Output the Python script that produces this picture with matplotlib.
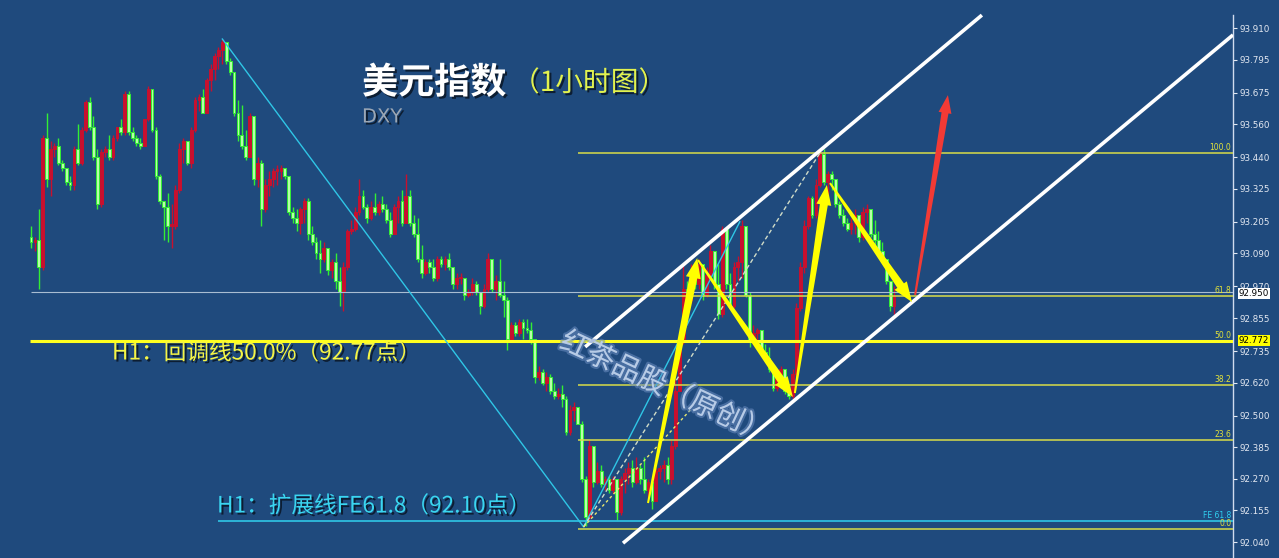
import numpy as np
import matplotlib
matplotlib.use("Agg")
import matplotlib.pyplot as plt
from matplotlib.patches import Polygon
import matplotlib.patheffects as pe
import matplotlib.transforms as mtrans

plt.rcParams["font.family"] = ["Noto Sans CJK SC", "DejaVu Sans"]

# hourly DXY bars, open of each bar = previous close
first_open = 93.15
closes = [
    93.13, 93.14, 93.04, 93.51, 93.36, 93.47, 93.48, 93.42, 93.40, 93.35,
    93.34, 93.47, 93.42, 93.54, 93.64, 93.55, 93.44, 93.27, 93.46, 93.47,
    93.44, 93.51, 93.55, 93.53, 93.67, 93.53, 93.51, 93.49, 93.48, 93.58,
    93.69, 93.54, 93.37, 93.28, 93.26, 93.19, 93.19, 93.32, 93.47, 93.50,
    93.42, 93.54, 93.65, 93.66, 93.60, 93.72, 93.76, 93.81, 93.83, 93.86,
    93.79, 93.75, 93.60, 93.52, 93.48, 93.44, 93.59, 93.36, 93.42, 93.25,
    93.34, 93.36, 93.39, 93.39, 93.40, 93.37, 93.24, 93.22, 93.20, 93.25,
    93.28, 93.16, 93.13, 93.09, 93.07, 93.11, 93.03, 93.06, 92.99, 92.95,
    93.04, 93.17, 93.18, 93.24, 93.30, 93.26, 93.22, 93.26, 93.24, 93.27,
    93.25, 93.21, 93.16, 93.26, 93.28, 93.20, 93.30, 93.20, 93.16, 93.07,
    93.02, 93.06, 93.04, 93.00, 93.07, 93.05, 93.07, 93.04, 92.98, 93.00,
    93.00, 92.94, 92.95, 92.98, 92.95, 92.90, 92.96, 93.07, 92.96, 92.99,
    92.94, 92.92, 92.78, 92.83, 92.80, 92.84, 92.82, 92.81, 92.78, 92.64,
    92.66, 92.62, 92.64, 92.59, 92.57, 92.58, 92.56, 92.44, 92.52, 92.53,
    92.47, 92.27, 92.13, 92.39, 92.26, 92.30, 92.25, 92.27, 92.23, 92.27,
    92.15, 92.27, 92.29, 92.31, 92.26, 92.31, 92.27, 92.23, 92.26, 92.19,
    92.30, 92.31, 92.32, 92.27, 92.39, 92.59, 92.78, 92.96, 92.92, 93.01,
    92.98, 93.05, 92.94, 93.01, 93.10, 92.98, 92.87, 93.18, 92.98, 92.90,
    93.04, 93.06, 93.19, 92.94, 92.77, 92.80, 92.81, 92.73, 92.71, 92.67,
    92.60, 92.65, 92.67, 92.59, 92.57, 92.65, 92.89, 93.04, 93.19, 93.29,
    93.23, 93.34, 93.45, 93.35, 93.38, 93.36, 93.27, 93.23, 93.20, 93.18,
    93.20, 93.23, 93.15, 93.24, 93.25, 93.16, 93.14, 93.10, 93.07, 92.99,
    92.90, 92.94,
]
highs = [
    93.19, 93.15, 93.25, 93.52, 93.60, 93.50, 93.49, 93.51, 93.43, 93.40,
    93.37, 93.48, 93.56, 93.55, 93.65, 93.66, 93.59, 93.47, 93.47, 93.48,
    93.52, 93.52, 93.55, 93.58, 93.68, 93.68, 93.55, 93.52, 93.51, 93.58,
    93.70, 93.66, 93.55, 93.38, 93.28, 93.31, 93.27, 93.34, 93.49, 93.51,
    93.50, 93.55, 93.66, 93.67, 93.69, 93.73, 93.78, 93.82, 93.84, 93.87,
    93.86, 93.80, 93.74, 93.65, 93.63, 93.54, 93.60, 93.59, 93.44, 93.43,
    93.36, 93.39, 93.40, 93.41, 93.41, 93.40, 93.32, 93.26, 93.25, 93.26,
    93.29, 93.29, 93.19, 93.15, 93.14, 93.13, 93.10, 93.07, 93.09, 93.04,
    93.06, 93.18, 93.21, 93.26, 93.36, 93.32, 93.27, 93.28, 93.31, 93.28,
    93.30, 93.27, 93.24, 93.27, 93.30, 93.32, 93.38, 93.32, 93.23, 93.22,
    93.12, 93.07, 93.07, 93.07, 93.08, 93.08, 93.08, 93.09, 93.04, 93.02,
    93.02, 93.00, 92.96, 93.00, 92.99, 92.95, 92.98, 93.09, 93.07, 93.01,
    93.07, 92.99, 92.93, 92.84, 92.84, 92.85, 92.85, 92.85, 92.84, 92.78,
    92.68, 92.67, 92.66, 92.65, 92.62, 92.60, 92.61, 92.57, 92.54, 92.55,
    92.52, 92.48, 92.28, 92.41, 92.38, 92.33, 92.32, 92.28, 92.28, 92.28,
    92.27, 92.28, 92.31, 92.33, 92.34, 92.35, 92.32, 92.35, 92.27, 92.27,
    92.31, 92.32, 92.34, 92.35, 92.41, 92.63, 92.79, 93.05, 92.99, 93.05,
    93.06, 93.07, 93.05, 93.04, 93.12, 93.10, 93.05, 93.19, 93.17, 93.02,
    93.06, 93.08, 93.21, 93.18, 92.95, 92.83, 92.82, 92.78, 92.76, 92.75,
    92.66, 92.66, 92.68, 92.67, 92.61, 92.67, 92.91, 93.06, 93.21, 93.30,
    93.30, 93.36, 93.47, 93.47, 93.39, 93.39, 93.36, 93.28, 93.25, 93.22,
    93.22, 93.25, 93.23, 93.26, 93.27, 93.25, 93.21, 93.17, 93.13, 93.06,
    92.99, 92.97,
]
lows = [
    93.11, 93.10, 92.96, 93.03, 93.33, 93.30, 93.44, 93.41, 93.39, 93.34,
    93.32, 93.32, 93.41, 93.41, 93.53, 93.54, 93.43, 93.25, 93.26, 93.44,
    93.43, 93.43, 93.50, 93.52, 93.52, 93.52, 93.50, 93.48, 93.47, 93.48,
    93.57, 93.53, 93.36, 93.27, 93.14, 93.13, 93.11, 93.18, 93.31, 93.42,
    93.41, 93.40, 93.53, 93.61, 93.60, 93.60, 93.68, 93.72, 93.76, 93.78,
    93.78, 93.74, 93.59, 93.50, 93.47, 93.43, 93.44, 93.34, 93.33, 93.19,
    93.24, 93.30, 93.33, 93.34, 93.36, 93.36, 93.23, 93.20, 93.17, 93.16,
    93.20, 93.14, 93.12, 93.07, 93.02, 93.06, 93.01, 93.00, 92.96, 92.90,
    92.88, 93.03, 93.16, 93.17, 93.23, 93.25, 93.20, 93.21, 93.23, 93.23,
    93.24, 93.20, 93.15, 93.16, 93.20, 93.19, 93.20, 93.19, 93.15, 93.06,
    93.00, 93.01, 93.02, 92.99, 92.99, 93.04, 93.03, 93.03, 92.96, 92.96,
    92.98, 92.92, 92.93, 92.94, 92.94, 92.87, 92.89, 92.95, 92.95, 92.92,
    92.93, 92.86, 92.74, 92.78, 92.79, 92.79, 92.78, 92.80, 92.76, 92.62,
    92.63, 92.61, 92.59, 92.58, 92.56, 92.56, 92.53, 92.43, 92.43, 92.48,
    92.47, 92.26, 92.10, 92.12, 92.24, 92.25, 92.24, 92.23, 92.22, 92.22,
    92.12, 92.14, 92.22, 92.25, 92.24, 92.25, 92.25, 92.22, 92.20, 92.16,
    92.19, 92.27, 92.26, 92.25, 92.25, 92.38, 92.59, 92.76, 92.88, 92.91,
    92.96, 92.96, 92.92, 92.93, 93.00, 92.96, 92.85, 92.86, 92.96, 92.89,
    92.89, 92.99, 93.00, 92.93, 92.75, 92.76, 92.76, 92.72, 92.70, 92.66,
    92.59, 92.59, 92.60, 92.58, 92.56, 92.56, 92.64, 92.88, 93.02, 93.18,
    93.22, 93.22, 93.33, 93.34, 93.30, 93.32, 93.26, 93.22, 93.19, 93.17,
    93.16, 93.16, 93.13, 93.14, 93.20, 93.15, 93.12, 93.09, 93.06, 92.98,
    92.88, 92.87,
]

price_ticks = [93.910, 93.795, 93.675, 93.560, 93.440, 93.325, 93.205, 93.090,
               92.970, 92.855, 92.735, 92.620, 92.500, 92.385, 92.270, 92.155, 92.040]

last_price = 92.950
retrace_50 = 92.772
fe_618 = 92.115
fib_low, fib_high = 92.088, 93.456
fib_levels = [0.0, 23.6, 38.2, 50.0, 61.8, 100.0]

# drawing anchors (bar index, price)
swing_high = (49.0, 93.87)
swing_low = (141.5, 92.095)
swing_c = (181.5, 93.205)
dash_end = (202.0, 93.455)
dot_end = (168.8, 92.520)
channel_top = [(141.9, 92.750), (243.5, 93.957)]
channel_bot = [(151.6, 92.036), (307.8, 93.885)]
yellow_arrows = [
    [(158.0, 92.182), (170.6, 93.073)],
    [(170.8, 93.066), (195.1, 92.568)],
    [(195.6, 92.582), (203.8, 93.339)],
    [(204.6, 93.346), (225.6, 92.913)],
]
red_arrow = [(226.4, 92.939), (234.8, 93.666)]

bg = "#1f4a7d"
up_col = "#c8102e"
dn_col = "#33ee33"

fig = plt.figure(figsize=(12.79, 5.58), dpi=100)
fig.patch.set_facecolor(bg)
ax = fig.add_axes([0, 0, 1233 / 1279, 1])
ax.set_facecolor(bg)
ax.set_xlim(-7.94, 307.8)
ax.set_ylim(91.982, 94.012)

# candles
o = np.array([first_open] + closes[:-1])
c = np.array(closes)
h = np.maximum(np.array(highs), np.maximum(o, c))
l = np.minimum(np.array(lows), np.minimum(o, c))
x = np.arange(len(c))
up = c >= o
for mask, col, face in [(up, up_col, up_col), (~up, dn_col, "#b8ffa8")]:
    ax.vlines(x[mask], l[mask], h[mask], color=col, lw=1, zorder=3)
    body = np.maximum(np.abs(c[mask] - o[mask]), 0.006)
    ax.bar(x[mask], body, bottom=np.minimum(o[mask], c[mask]), width=0.72,
           color=face, edgecolor=col, linewidth=0.7, zorder=3)

# horizontal levels
ax.hlines(last_price, 0, 307.8, color="#a9bdd2", lw=0.8, zorder=4)
ax.hlines(fe_618, 47.9, 307.8, color="#2fc6e6", lw=1.2, zorder=4)
for lv in fib_levels:
    p = fib_low + (fib_high - fib_low) * lv / 100
    ax.hlines(p, 140.1, 307.8, color="#d9dd48", lw=1.1, zorder=4)
    ax.text(307.4, p + 0.004, f"{lv:.1f}", ha="right", va="bottom", fontsize=5.5,
            color="#e2e23a", family="DejaVu Sans", zorder=8)
ax.text(307.4, fe_618 + 0.004, "FE 61.8", ha="right", va="bottom", fontsize=5.5,
        color="#30d0f0", family="DejaVu Sans", zorder=8)
ax.hlines(retrace_50, -0.3, 307.8, color="#ffff20", lw=2.2, zorder=4)

# cyan zigzag and dashed projections
zx = [swing_high[0], swing_low[0], swing_c[0]]
zy = [swing_high[1], swing_low[1], swing_c[1]]
ax.plot(zx, zy, color="#2fc6e6", lw=1, zorder=4)
ax.plot([swing_low[0], dash_end[0]], [swing_low[1], dash_end[1]], color="#d0dcc8",
        lw=1, ls=(0, (3, 2)), zorder=4)
ax.plot([swing_low[0], dot_end[0]], [swing_low[1], dot_end[1]], color="#e8e870",
        lw=1, ls=(0, (2, 2)), zorder=4)

# channel
for seg in (channel_top, channel_bot):
    ax.plot([seg[0][0], seg[1][0]], [seg[0][1], seg[1][1]], color="white",
            lw=2.6, solid_capstyle="butt", zorder=5)


def tapered_arrow(start, end, w0, w1, head_w, head_len, color):
    to_px = ax.transData.transform
    p0, p1 = to_px(start), to_px(end)
    d = p1 - p0
    u = d / np.hypot(*d)
    n = np.array([-u[1], u[0]])
    q = p1 - u * head_len
    pts = [p0 + n * w0 / 2, q + n * w1 / 2, q + n * head_w / 2, p1,
           q - n * head_w / 2, q - n * w1 / 2, p0 - n * w0 / 2]
    ax.add_patch(Polygon(ax.transData.inverted().transform(pts), closed=True,
                         facecolor=color, edgecolor="none", zorder=6))


for a, b in yellow_arrows:
    tapered_arrow(a, b, 2, 8, 15, 20, "#ffff00")
tapered_arrow(red_arrow[0], red_arrow[1], 2, 7, 13, 18, "#f23a35")

# right price axis
for s in ("left", "top", "bottom"):
    ax.spines[s].set_visible(False)
ax.spines["right"].set_color("#d0dbee")
ax.spines["right"].set_linewidth(1)
ax.spines["right"].set_bounds(91.982, 93.957)
ax.set_xticks([])
ax.yaxis.tick_right()
ax.set_yticks(price_ticks)
ax.set_yticklabels([f"{t:.3f}" for t in price_ticks], family="DejaVu Sans")
ax.tick_params(axis="y", colors="#e4e9f2", labelsize=6.3, length=3, width=0.8, pad=2)

yax = mtrans.blended_transform_factory(ax.transAxes, ax.transData)
ax.text(1.0045, last_price - 0.007, "92.950", transform=yax, ha="left", va="center",
        fontsize=6.3, family="DejaVu Sans", color="black", zorder=9, clip_on=False,
        bbox=dict(facecolor="white", edgecolor="none", pad=0.7))
ax.text(1.0045, retrace_50, "92.772", transform=yax, ha="left", va="center",
        fontsize=6.3, family="DejaVu Sans", color="black", zorder=9, clip_on=False,
        bbox=dict(facecolor="#ffff00", edgecolor="none", pad=0.7))

# titles and notes
shadow = [pe.withSimplePatchShadow(offset=(1.5, -1.5), shadow_rgbFace="black", alpha=0.6)]
fig.text(362 / 1279, 1 - 83 / 558, "美元指数", fontsize=26, fontweight="bold",
         color="white", va="center", ha="left", path_effects=shadow)
fig.text(512 / 1279, 1 - 83 / 558, "（1小时图）", fontsize=20, color="#e2f24e",
         va="center", ha="left", path_effects=shadow)
fig.text(362 / 1279, 1 - 117 / 558, "DXY", fontsize=14, color="#9ba7b5",
         family="DejaVu Sans", va="center", ha="left", path_effects=shadow)
fig.text(112 / 1279, 1 - 353 / 558, "H1：回调线50.0%（92.77点）", fontsize=16.3,
         color="#f5f545", va="center", ha="left", path_effects=shadow)
fig.text(217 / 1279, 1 - 506 / 558, "H1：扩展线FE61.8（92.10点）", fontsize=16.3,
         color="#3ad6f0", va="center", ha="left", path_effects=shadow)
fig.text(665 / 1279, 1 - 388 / 558, "红茶品股（原创）", fontsize=20.5, color="#c4d6ee",
         rotation=-25, rotation_mode="anchor", va="center", ha="center", alpha=0.85,
         path_effects=[pe.withStroke(linewidth=3, foreground="#6a8cc0", alpha=0.55)])

fig.savefig("out.png", dpi=100, facecolor=bg)
